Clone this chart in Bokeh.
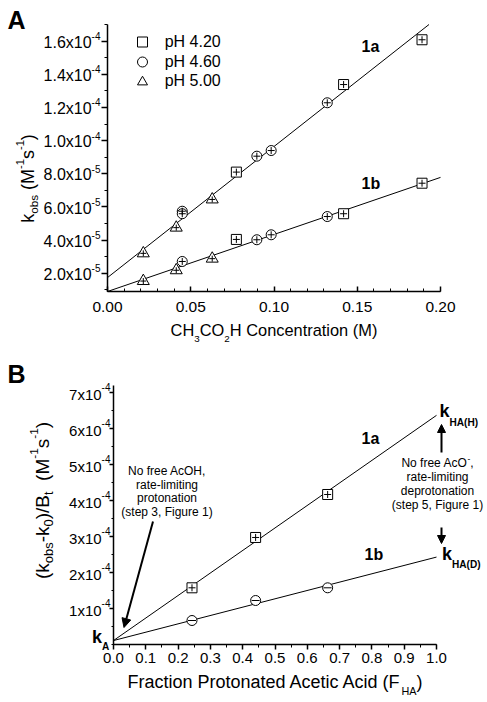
import numpy as np
from bokeh.plotting import figure
from bokeh.models import (Label, Arrow, NormalHead, FixedTicker, CustomJSTickFormatter,
                          Range1d, Legend, LegendItem, LinearAxis)
from bokeh.layouts import column
from bokeh.embed import file_html
from bokeh.resources import INLINE

FONT = "Liberation Sans"

# ---------------- data: panel A (kobs vs [CH3CO2H]) ----------------
ph420_x = [0.0774, 0.1418, 0.1889]
ph420_1a = [8.10e-5, 1.338e-4, 1.608e-4]
ph420_1b = [4.04e-5, 5.59e-5, 7.43e-5]

ph460_1a_x = [0.0449, 0.0449, 0.0897, 0.0983, 0.1320]
ph460_1a = [5.74e-5, 5.59e-5, 9.06e-5, 9.40e-5, 1.228e-4]
ph460_1b_x = [0.0449, 0.0897, 0.0983, 0.1320]
ph460_1b = [2.71e-5, 4.02e-5, 4.32e-5, 5.42e-5]

ph500_x = [0.0215, 0.0413, 0.0629]
ph500_1a = [3.20e-5, 4.75e-5, 6.45e-5]
ph500_1b = [1.53e-5, 2.18e-5, 2.88e-5]

a_fit_1a_x = [0.0, 0.1931]
a_fit_1a = [1.74e-5, 1.70e-4]
a_fit_1b_x = [0.0, 0.2]
a_fit_1b = [0.90e-5, 7.78e-5]

legend_labels = ["pH 4.20", "pH 4.60", "pH 5.00"]

a_xticks = [0.0, 0.05, 0.10, 0.15, 0.20]
a_xtick_labels = ["0.00", "0.05", "0.10", "0.15", "0.20"]
a_yticks = [2e-5, 4e-5, 6e-5, 8e-5, 1.0e-4, 1.2e-4, 1.4e-4, 1.6e-4]
a_ytick_mant = ["2.0x10", "4.0x10", "6.0x10", "8.0x10", "1.0x10", "1.2x10", "1.4x10", "1.6x10"]
a_ytick_exp = ["-5", "-5", "-5", "-5", "-4", "-4", "-4", "-4"]

# ---------------- data: panel B ((kobs-k0)/Bt vs F_HA) ----------------
b_fha = [0.243, 0.44, 0.663]
b_1a = [1.576e-4, 2.975e-4, 4.17e-4]
b_1b = [0.667e-4, 1.223e-4, 1.576e-4]

b_fit_x = [0.0, 1.0]
b_fit_1a = [1.1e-5, 6.37e-4]
b_fit_1b = [1.1e-5, 2.43e-4]

b_xticks = [0.0, 0.1, 0.2, 0.3, 0.4, 0.5, 0.6, 0.7, 0.8, 0.9, 1.0]
b_xtick_labels = ["0.0", "0.1", "0.2", "0.3", "0.4", "0.5", "0.6", "0.7", "0.8", "0.9", "1.0"]
b_yticks = [1e-4, 2e-4, 3e-4, 4e-4, 5e-4, 6e-4, 7e-4]
b_ytick_mant = ["1x10", "2x10", "3x10", "4x10", "5x10", "6x10", "7x10"]
b_ytick_exp = ["-4"] * 7

# ---------------- text width helpers (Arial metrics) ----------------
W_REG = {' ': 278, '(': 333, ')': 333, '-': 333, '/': 278, ',': 278, '.': 278, 'x': 500,
         'A': 667, 'B': 667, 'C': 722, 'D': 722, 'F': 611, 'H': 722, 'M': 833, 'N': 722,
         'O': 778, 'P': 667, 'a': 556, 'b': 556, 'c': 500, 'd': 556, 'e': 556, 'f': 278,
         'g': 556, 'h': 556, 'i': 222, 'k': 500, 'l': 222, 'm': 833, 'n': 556, 'o': 556,
         'p': 556, 'r': 333, 's': 500, 't': 278, 'u': 556}
W_BOLD = {' ': 278, 'k': 556, 'A': 722, 'H': 722, 'D': 722, '(': 333, ')': 333,
          '1': 556, 'a': 556, 'b': 611}

PAGE_W = 487
BASE_FIX = 0.3   # empirical baseline correction (fraction of font size)


def tw(s, size, bold=False):
    t = W_BOLD if bold else W_REG
    return sum(t.get(c, 556) for c in s) * size / 1000.0


def mapper(fl, fr, ft, fb, xr, yr):
    def f(px, py):
        return (xr[0] + (px - fl) / (fr - fl) * (xr[1] - xr[0]),
                yr[0] + (fb - py) / (fb - ft) * (yr[1] - yr[0]))
    return f


def lab(p, m, text, px, py, size, bold=False, align="left", vertical=False):
    if vertical:
        px -= BASE_FIX * size
    else:
        py -= BASE_FIX * size
    x, y = m(px, py)
    p.add_layout(Label(x=x, y=y, text=text, text_font=FONT, text_font_size=f"{size:.2f}px",
                       text_font_style="bold" if bold else "normal", text_color="black",
                       text_align=align, text_baseline="alphabetic",
                       angle=(np.pi / 2 if vertical else 0.0)))


def rich(p, m, segs, px, py, size, bold=False, anchor="center", vertical=False,
         sub_scale=0.62, sub_drop=0.4, sup_scale=0.62, sup_rise=0.55):
    sizes = [size * (sub_scale if k == "sub" else sup_scale if k == "sup" else 1.0) for _, k in segs]
    widths = [tw(t, s, bold) for (t, _), s in zip(segs, sizes)]
    total = sum(widths)
    pos = {"left": 0.0, "center": -total / 2.0, "right": -total}[anchor]
    for (t, k), s, w in zip(segs, sizes, widths):
        shift = sub_drop * size if k == "sub" else (-sup_rise * size if k == "sup" else 0.0)
        lead = len(t) - len(t.lstrip())
        p0 = pos + tw(" " * lead, s, bold)
        if vertical:
            lab(p, m, t.strip(), px + shift, py - p0, s, bold, vertical=True)
        else:
            lab(p, m, t.strip(), px + p0, py + shift, s, bold)
        pos += w


def ytick_labels(p, m, ticks, mant, exps, right_px, size, sup_size, base_dy, sup_dy):
    for t, mt, ex in zip(ticks, mant, exps):
        supw = tw(ex, sup_size)
        xa = m(right_px - supw, 0)[0]
        p.add_layout(Label(x=xa, y=t, y_offset=-base_dy + BASE_FIX * size, text=mt, text_align="right",
                           text_baseline="alphabetic", text_font=FONT,
                           text_font_size=f"{size}px", text_color="black"))
        p.add_layout(Label(x=xa, y=t, y_offset=sup_dy + BASE_FIX * sup_size, text=ex, text_align="left",
                           text_baseline="alphabetic", text_font=FONT,
                           text_font_size=f"{sup_size}px", text_color="black"))


def arrow(p, m, a, b, lw=2, size=9):
    x0, y0 = m(*a)
    x1, y1 = m(*b)
    p.add_layout(Arrow(end=NormalHead(size=size, fill_color="black", line_color="black", line_width=1),
                       x_start=x0, y_start=y0, x_end=x1, y_end=y1,
                       line_width=lw, line_color="black"))


def pts(p, x, y, marker, size, inner="cross", inner_size=7):
    r = p.scatter(x, y, marker=marker, size=size, fill_color="white", line_color="black", line_width=1)
    if inner:
        p.scatter(x, y, marker=inner, size=inner_size, line_color="black", line_width=1)
    return r


def lookup_formatter(ticks, labels):
    return CustomJSTickFormatter(args=dict(tv=ticks, tl=labels), code="""
        for (let i = 0; i < tv.length; i++) {
            if (Math.abs(tv[i] - tick) < 1e-9) return tl[i];
        }
        return '';
    """)


def make_fig(height, m, top_px):
    xs = (m(0, 0)[0], m(PAGE_W, 0)[0])
    ys = (m(0, top_px + height)[1], m(0, top_px)[1])
    p = figure(width=PAGE_W, height=height, x_range=Range1d(*xs), y_range=Range1d(*ys),
               x_axis_type=None, y_axis_type=None, output_backend="svg", toolbar_location=None,
               min_border_left=0, min_border_right=0, min_border_top=0, min_border_bottom=0)
    p.outline_line_color = None
    p.background_fill_color = "white"
    p.border_fill_color = "white"
    return p


def add_axes(p, xr, yr, xticks, xminor, xlabels, yticks, yminor, xin, xout, yout, xfont, standoff):
    xa = LinearAxis(fixed_location=yr[0], bounds=xr,
                    ticker=FixedTicker(ticks=xticks, minor_ticks=xminor),
                    formatter=lookup_formatter(xticks, xlabels))
    ya = LinearAxis(fixed_location=xr[0], bounds=yr,
                    ticker=FixedTicker(ticks=yticks, minor_ticks=yminor),
                    formatter=CustomJSTickFormatter(code="return '';"))
    for ax in (xa, ya):
        ax.axis_line_width = 1.5
        ax.axis_line_color = "black"
        ax.major_tick_line_width = 1.5
        ax.major_tick_line_color = "black"
        ax.minor_tick_line_width = 1
        ax.minor_tick_line_color = "black"
        ax.major_label_text_font = FONT
        ax.major_label_text_color = "black"
    xa.major_tick_in, xa.major_tick_out = xin, xout
    xa.minor_tick_in, xa.minor_tick_out = (3 if xin else 0), (3 if xout else 0)
    xa.major_label_text_font_size = xfont
    xa.major_label_standoff = standoff
    ya.major_tick_in, ya.major_tick_out = 0, yout
    ya.minor_tick_in, ya.minor_tick_out = 0, max(2, yout // 2)
    p.add_layout(xa, "below")
    p.add_layout(ya, "left")


# ======================= panel A =======================
A_X = (0.0, 0.2)
A_Y = (0.9e-5, 1.7e-4)
A_H = 358
ma = mapper(107, 440, 24, 291, A_X, A_Y)
pa = make_fig(A_H, ma, 0)
add_axes(pa, A_X, A_Y, a_xticks, list(np.round(np.arange(0, 0.2001, 0.01), 3)), a_xtick_labels,
         a_yticks, list(np.arange(1, 17.5, 1) * 1e-5), 5, 0, 6, "15.5px", 10)

pa.line(a_fit_1a_x, a_fit_1a, line_color="black", line_width=1)
pa.line(a_fit_1b_x, a_fit_1b, line_color="black", line_width=1)
r_sq = pts(pa, ph420_x, ph420_1a, "square", 10)
pts(pa, ph420_x, ph420_1b, "square", 10)
r_ci = pts(pa, ph460_1a_x, ph460_1a, "circle", 10)
pts(pa, ph460_1b_x, ph460_1b, "circle", 10)
r_tr = pts(pa, ph500_x, ph500_1a, "triangle", 12, inner_size=6)
pts(pa, ph500_x, ph500_1b, "triangle", 12, inner_size=6)

# one single-item legend per row; location = bottom-left of each legend box (screen px from frame bottom-left)
leg_gw, leg_gh = 46, 25
for lbl, r, cy in zip(legend_labels, [r_sq, r_ci, r_tr], [41.7, 61.7, 81.0]):
    pa.add_layout(Legend(items=[LegendItem(label=lbl, renderers=[r])],
                         location=(141.7 - leg_gw / 2, A_H - cy - leg_gh / 2), margin=0, padding=0,
                         glyph_width=leg_gw, glyph_height=leg_gh, label_height=leg_gh, spacing=0,
                         label_standoff=-1, border_line_color=None, background_fill_alpha=0,
                         label_text_font=FONT, label_text_font_size="16px", label_text_color="black"))

ytick_labels(pa, ma, a_yticks, a_ytick_mant, a_ytick_exp, 100, 16, 10, 6, 2)
lab(pa, ma, "A", 7, 27, 25, bold=True)
lab(pa, ma, "1a", 361, 51, 16, bold=True)
lab(pa, ma, "1b", 361, 188, 16, bold=True)
rich(pa, ma, [("k", "n"), ("obs", "sub"), (" (M", "n"), ("-1", "sup"), ("s", "n"), ("-1", "sup"), (")", "n")],
     33, 178, 18, vertical=True, sub_drop=0.2, sub_scale=0.65, sup_scale=0.62, sup_rise=0.58)
rich(pa, ma, [("CH", "n"), ("3", "sub"), ("CO", "n"), ("2", "sub"), ("H Concentration (M)", "n")],
     273.5, 334.5, 16.4, sub_drop=0.42, sub_scale=0.6)

# ======================= panel B =======================
B_X = (0.0, 1.0)
B_Y = (0.0, 7.2e-4)
B_TOP = A_H
B_H = 702 - A_H
mb = mapper(113, 436, 385, 644, B_X, B_Y)
pb = make_fig(B_H, mb, B_TOP)
add_axes(pb, B_X, B_Y, b_xticks, list(np.round(np.arange(0, 1.001, 0.05), 3)), b_xtick_labels,
         b_yticks, list(np.arange(0, 7.01, 0.5) * 1e-4), 0, 5, 4, "15px", 3)

pb.line(b_fit_x, b_fit_1a, line_color="black", line_width=1)
pb.line(b_fit_x, b_fit_1b, line_color="black", line_width=1)
pts(pb, b_fha, b_1a, "square", 10, inner="cross", inner_size=7)
pts(pb, b_fha, b_1b, "circle", 10, inner="dash", inner_size=8)

ytick_labels(pb, mb, b_yticks, b_ytick_mant, b_ytick_exp, 110, 15, 10, 6, 3)
lab(pb, mb, "B", 7, 381, 25, bold=True)
lab(pb, mb, "1a", 361, 443, 16, bold=True)
lab(pb, mb, "1b", 364, 559, 16, bold=True)
rich(pb, mb, [("k", "n"), ("HA(H)", "sub")], 439, 416, 18, bold=True, anchor="left", sub_scale=0.56, sub_drop=0.5)
rich(pb, mb, [("k", "n"), ("HA(D)", "sub")], 441.5, 559, 18, bold=True, anchor="left", sub_scale=0.56, sub_drop=0.45)
rich(pb, mb, [("k", "n"), ("A", "sub")], 91.5, 642, 18, bold=True, anchor="left", sub_scale=0.56, sub_drop=0.4)
rich(pb, mb, [("No free AcO", "n"), ("-", "sup"), (",", "n")], 437, 466, 12, sup_rise=0.45, sup_scale=0.7)
for t, yy in zip(["rate-limiting", "deprotonation", "(step 5, Figure 1)"], [480, 494, 508]):
    lab(pb, mb, t, 437, yy, 12, align="center")
for t, yy in zip(["No free AcOH,", "rate-limiting", "protonation", "(step 3, Figure 1)"], [474.5, 488, 501.5, 515]):
    lab(pb, mb, t, 166.5, yy, 12, align="center")
arrow(pb, mb, (152.5, 521), (123.5, 627), lw=2, size=9)
arrow(pb, mb, (441, 452), (441, 424), lw=2, size=8)
arrow(pb, mb, (441, 527), (441, 543), lw=2, size=8)
rich(pb, mb, [("(k", "n"), ("obs", "sub"), ("-k", "n"), ("0", "sub"), (")/B", "n"), ("t", "sub"),
              ("  (M", "n"), ("-1", "sup"), ("s", "n"), ("-1", "sup"), (")", "n")],
     48, 500, 19, vertical=True, sub_drop=0.2, sub_scale=0.68, sup_scale=0.62, sup_rise=0.58)
rich(pb, mb, [("Fraction Protonated Acetic Acid (F", "n"), ("HA", "sub"), (")", "n")],
     274.5, 686.5, 18, sub_drop=0.42, sub_scale=0.6)

layout = column(pa, pb, spacing=0)
open("out.html", "w").write(file_html(layout, INLINE))
